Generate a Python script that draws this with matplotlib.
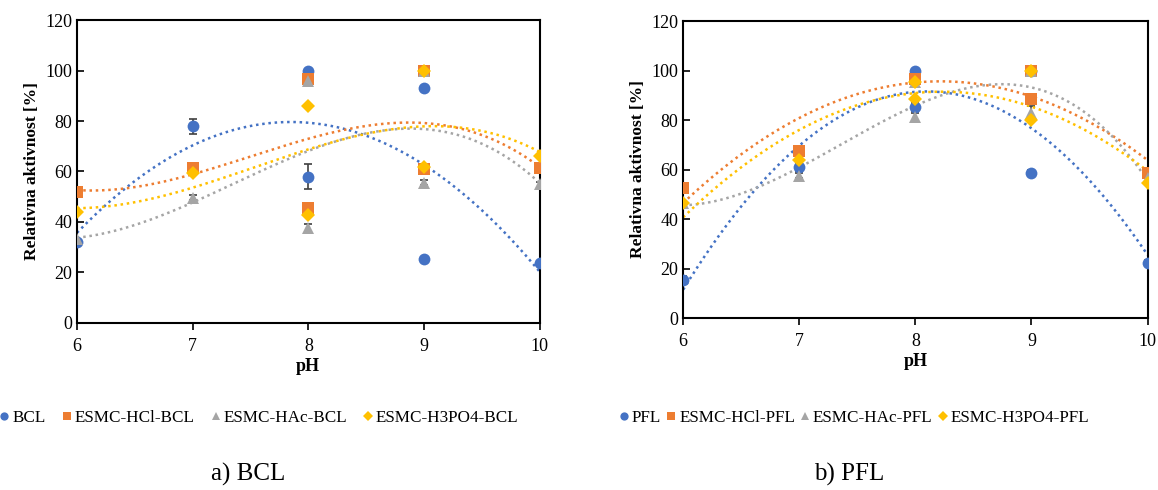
import numpy as np
import matplotlib
matplotlib.use("Agg")
import matplotlib.pyplot as plt

plt.rcParams['font.family'] = ['Liberation Serif', 'DejaVu Serif']

# data
ph = [6, 7, 8, 8, 9, 9, 10]

bcl = [32, 78, 100, 58, 93, 25.5, 23.8]
bcl_err = [0, 3, 0, 5, 0, 0, 0]
hcl_bcl = [52, 61.5, 96.5, 45.6, 100, 61, 61.2]
hcl_bcl_err = [0, 1, 1.5, 1.5, 0, 1.5, 1.5]
hac_bcl = [33.3, 49.6, 96, 37.5, 100, 55.5, 55]
hac_bcl_err = [0, 1, 1.5, 1.5, 1, 1, 1]
h3po4_bcl = [44, 59.5, 86, 42.7, 100, 61.7, 66.3]
h3po4_bcl_err = [0, 0, 0, 0, 0, 0, 0]

pfl = [15.4, 61, 100, 85.3, 100, 58.7, 22.4]
pfl_err = [1.5, 1.5, 0, 1.5, 0, 1, 1]
hcl_pfl = [52.7, 67.6, 96.5, 96.5, 100, 88.7, 58.5]
hcl_pfl_err = [0, 1, 1.5, 1.5, 0, 1, 1]
hac_pfl = [46.4, 57.5, 95.4, 81.3, 100, 83, 56.4]
hac_pfl_err = [0, 1, 1.5, 1.5, 0, 2.5, 1]
h3po4_pfl = [46.4, 64, 95.4, 88.4, 100, 80.2, 54.4]
h3po4_pfl_err = [0, 0, 0, 0, 0, 0, 0]

colors = ['#4472C4', '#ED7D31', '#A5A5A5', '#FFC000']
markers = ['o', 's', '^', 'D']
msizes = [8.5, 8.5, 8.5, 7]

left_names = ['BCL', 'ESMC-HCl-BCL', 'ESMC-HAc-BCL', 'ESMC-H3PO4-BCL']
right_names = ['PFL', 'ESMC-HCl-PFL', 'ESMC-HAc-PFL', 'ESMC-H3PO4-PFL']
left_vals = [bcl, hcl_bcl, hac_bcl, h3po4_bcl]
left_errs = [bcl_err, hcl_bcl_err, hac_bcl_err, h3po4_bcl_err]
right_vals = [pfl, hcl_pfl, hac_pfl, h3po4_pfl]
right_errs = [pfl_err, hcl_pfl_err, hac_pfl_err, h3po4_pfl_err]
left_deg = [2, 3, 3, 3]
right_deg = [2, 2, 3, 2]

fig = plt.figure(figsize=(11.58, 4.9), dpi=100)
ax1 = fig.add_axes([0.0665, 0.341, 0.3995, 0.618])
ax2 = fig.add_axes([0.590, 0.351, 0.401, 0.606])


def draw(ax, vals, errs, names, degs):
    xs = np.linspace(6, 10, 200)
    handles = []
    for v, e, n, c, m, s, d in zip(vals, errs, names, colors, markers, msizes, degs):
        ax.errorbar(ph, v, yerr=e, fmt='none', ecolor='#404040', elinewidth=1.2,
                    capsize=3, capthick=1.2, zorder=2)
        h, = ax.plot(ph, v, linestyle='none', marker=m, color=c, ms=s,
                     markeredgewidth=0, label=n, zorder=3)
        handles.append(h)
        # polynomial trendline, like the spreadsheet one
        coef = np.polyfit(ph, v, d)
        ax.plot(xs, np.polyval(coef, xs), linestyle=(0, (1, 1.5)), color=c,
                lw=1.8, zorder=2.5)
    ax.set_xlim(6, 10)
    ax.set_ylim(0, 120)
    ax.set_xticks([6, 7, 8, 9, 10])
    ax.set_yticks(range(0, 121, 20))
    ax.tick_params(labelsize=13, direction='in', length=5, width=1.2)
    ax.tick_params(axis='x', direction='out', pad=6)
    for sp in ax.spines.values():
        sp.set_linewidth(1.5)
    ax.set_xlabel('pH', fontsize=13, fontweight='bold', labelpad=2)
    ax.set_ylabel('Relativna aktivnost [%]', fontsize=12.5, fontweight='bold')
    return handles


h1 = draw(ax1, left_vals, left_errs, left_names, left_deg)
h2 = draw(ax2, right_vals, right_errs, right_names, right_deg)

leg_kw = dict(ncol=4, frameon=False, fontsize=12.3, handlelength=0.5,
              handletextpad=0.2, columnspacing=1.0, markerscale=0.7)
fig.legend(handles=h1, loc='center', bbox_to_anchor=(0.224, 0.147), **leg_kw)
leg2 = dict(leg_kw, columnspacing=0.35)
fig.legend(handles=h2, loc='center', bbox_to_anchor=(0.738, 0.147), **leg2)

fig.text(0.214, 0.008, 'a) BCL', fontsize=18, ha='center', va='bottom')
fig.text(0.733, 0.008, 'b) PFL', fontsize=18, ha='center', va='bottom')

fig.savefig('out.png', dpi=100)
